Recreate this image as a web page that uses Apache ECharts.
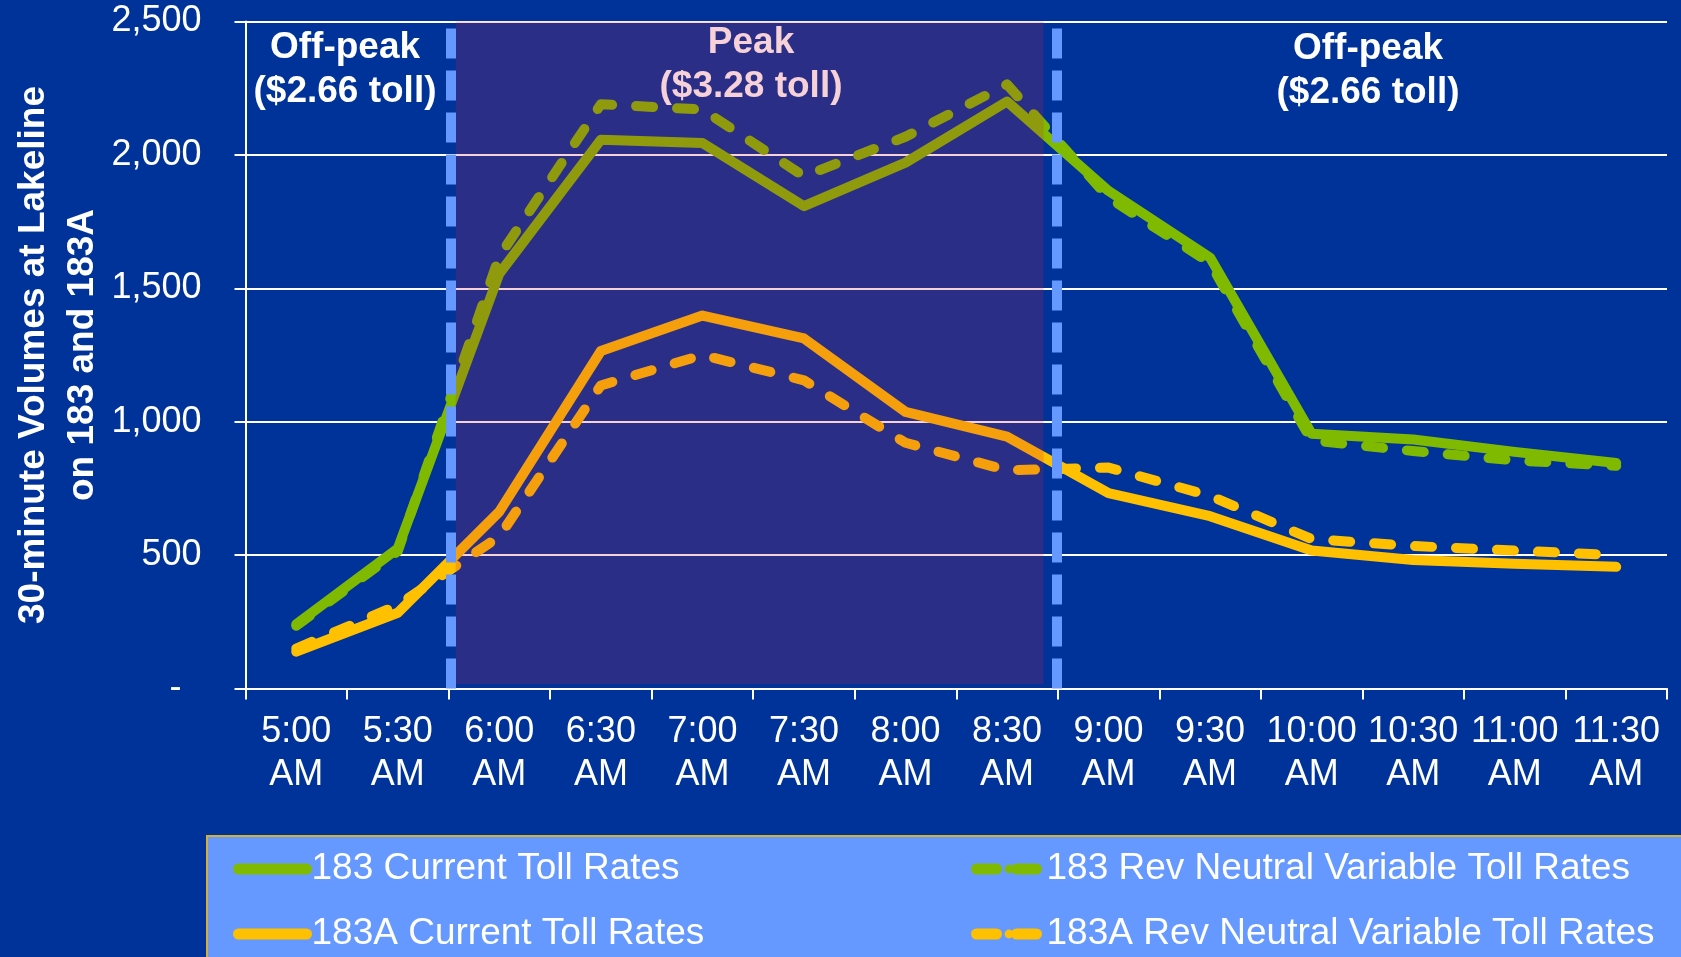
<!DOCTYPE html>
<html>
<head>
<meta charset="utf-8">
<script src="https://cdn.jsdelivr.net/npm/echarts@6/dist/echarts.min.js"></script>
<style>
html,body{margin:0;padding:0;background:#003399;}
#chart{width:1681px;height:957px;}
</style>
</head>
<body>
<div id="chart"></div>
<script>
const categories = ['5:00\nAM','5:30\nAM','6:00\nAM','6:30\nAM','7:00\nAM','7:30\nAM','8:00\nAM','8:30\nAM','9:00\nAM','9:30\nAM','10:00\nAM','10:30\nAM','11:00\nAM','11:30\nAM'];
const s183Current = [241, 525, 1555, 2057, 2045, 1808, 1971, 2200, 1865, 1615, 955, 933, 887, 845];
const s183RevNeutral = [235, 515, 1620, 2190, 2170, 1920, 2068, 2264, 1840, 1595, 930, 890, 855, 835];
const s183ACurrent = [138, 284, 663, 1265, 1398, 1312, 1037, 944, 732, 646, 517, 482, 468, 456];
const s183ARevNeutral = [150, 312, 570, 1136, 1250, 1155, 921, 818, 828, 722, 560, 534, 517, 500];
const seriesNames = ['183 Current Toll Rates', '183 Rev Neutral Variable Toll Rates', '183A Current Toll Rates', '183A Rev Neutral Variable Toll Rates'];
const yTicks = {min: 0, max: 2500, interval: 500};
const peakBounds = [2.07, 7.86];      // in category-slot units
const peakDividers = [2.02, 7.99];
const peakYRange = [17, 2511];

const FONT = '"Liberation Sans", Arial, sans-serif';
const GREEN = '#7fba00';
const GOLD = '#ffc000';
const DASH = [17, 24];

const chart = echarts.init(document.getElementById('chart'));
const lineBase = {type: 'line', symbol: 'none', smooth: false, z: 3};

function legendItem(name, left, top, width, dashed) {
  return {
    data: [name], orient: 'horizontal', left: left, top: top, padding: 0,
    itemWidth: width, itemHeight: 11, itemGap: 0,
    textStyle: {color: '#ffffff', fontSize: 37, fontFamily: FONT, lineHeight: 40},
    lineStyle: dashed ? {width: 11, cap: 'round', type: [20, 20]} : {width: 11, cap: 'round'}
  };
}

chart.setOption({
  backgroundColor: '#003399',
  animation: false,
  grid: {left: 245.5, right: 14, top: 21.5, bottom: 268.5, containLabel: false, outerBoundsMode: 'none'},
  xAxis: [{
    type: 'category', data: categories, boundaryGap: true,
    axisLine: {lineStyle: {color: '#ffffff', width: 2}},
    axisTick: {show: true, inside: false, length: 11, lineStyle: {color: '#ffffff', width: 2}},
    axisLabel: {interval: 0, color: '#ffffff', fontSize: 36, fontFamily: FONT, lineHeight: 43, margin: 22},
    splitLine: {show: false}
  }, {
    type: 'value', min: 0, max: 14, show: false
  }],
  yAxis: {
    type: 'value', min: yTicks.min, max: yTicks.max, interval: yTicks.interval,
    name: '30-minute Volumes at Lakeline\non 183 and 183A',
    nameLocation: 'middle', nameGap: 138, nameRotate: 90, nameMoveOverlap: false,
    nameTextStyle: {color: '#ffffff', fontSize: 37, fontWeight: 'bold', fontFamily: FONT, lineHeight: 49, align: 'center'},
    axisLine: {show: true, lineStyle: {color: '#ffffff', width: 2}},
    axisTick: {show: true, inside: false, length: 11, lineStyle: {color: '#ffffff', width: 2}},
    axisLabel: {color: '#ffffff', fontSize: 36, fontFamily: FONT, margin: 44,
      formatter: v => v === 0 ? '-  ' : v.toLocaleString('en-US')},
    splitLine: {show: true, lineStyle: {color: '#ffffff', width: 2}}
  },
  legend: [
    legendItem(seriesNames[0], 233, 849, 68, false),
    legendItem(seriesNames[2], 233, 914, 68, false),
    legendItem(seriesNames[1], 971, 849, 65, true),
    legendItem(seriesNames[3], 971, 914, 65, true)
  ],
  graphic: [
    {type: 'rect', z: 0, shape: {x: 207, y: 836, width: 1500, height: 200},
      style: {fill: '#6699ff', stroke: '#d4b030', lineWidth: 2}},
    {type: 'text', z: 0, x: 345, y: 26,
      style: {text: 'Off-peak\n($2.66 toll)', fill: '#ffffff', font: 'bold 37px ' + FONT, align: 'center', verticalAlign: 'top', lineHeight: 44}},
    {type: 'text', z: 0, x: 751, y: 21,
      style: {text: 'Peak\n($3.28 toll)', fill: '#ffffff', font: 'bold 37px ' + FONT, align: 'center', verticalAlign: 'top', lineHeight: 44}},
    {type: 'text', z: 0, x: 1368, y: 27,
      style: {text: 'Off-peak\n($2.66 toll)', fill: '#ffffff', font: 'bold 37px ' + FONT, align: 'center', verticalAlign: 'top', lineHeight: 44}}
  ],
  series: [
    Object.assign({}, lineBase, {name: seriesNames[0], data: s183Current,
      lineStyle: {color: GREEN, width: 10, cap: 'round', join: 'round'}, itemStyle: {color: GREEN}}),
    Object.assign({}, lineBase, {name: seriesNames[1], data: s183RevNeutral,
      lineStyle: {color: GREEN, width: 10, type: DASH, cap: 'round', join: 'round'}, itemStyle: {color: GREEN}}),
    Object.assign({}, lineBase, {name: seriesNames[2], data: s183ACurrent,
      lineStyle: {color: GOLD, width: 10, cap: 'round', join: 'round'}, itemStyle: {color: GOLD}}),
    Object.assign({}, lineBase, {name: seriesNames[3], data: s183ARevNeutral,
      lineStyle: {color: GOLD, width: 10, type: DASH, cap: 'round', join: 'round'}, itemStyle: {color: GOLD}}),
    {
      name: 'peak-overlay', type: 'line', xAxisIndex: 1, yAxisIndex: 0, data: [], z: 20, clip: false,
      markArea: {z: 20, silent: true, itemStyle: {color: 'rgba(210,30,60,0.2)'},
        data: [[{coord: [peakBounds[0], peakYRange[0]]}, {coord: [peakBounds[1], peakYRange[1]]}]]},
      markLine: {z: 21, silent: true, symbol: ['none', 'none'], label: {show: false},
        lineStyle: {color: '#6699ff', width: 10, type: [30, 12], opacity: 1},
        data: [{xAxis: peakDividers[0]}, {xAxis: peakDividers[1]}]}
    }
  ]
});
</script>
</body>
</html>
